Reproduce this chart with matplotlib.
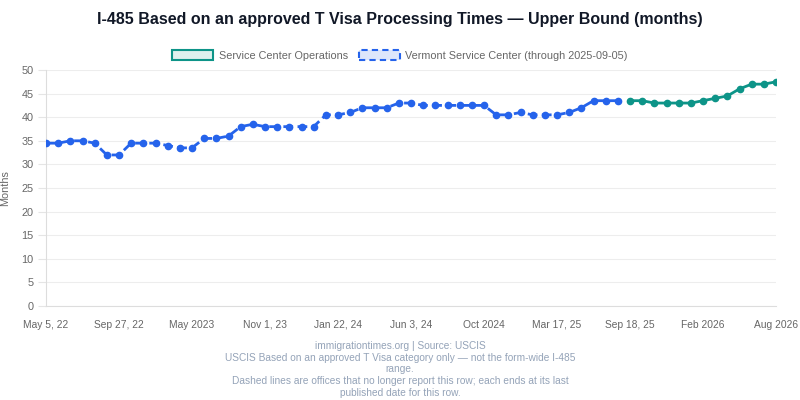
import matplotlib.pyplot as plt
from matplotlib.patches import Patch

plt.rcParams['font.family'] = ['Liberation Sans', 'DejaVu Sans']

# valores (meses, limite superior)
vermont = [34.5, 34.5, 35, 35, 34.5, 32, 32, 34.5, 34.5, 34.5, 34, 33.5, 33.5,
           35.5, 35.5, 36, 38, 38.5, 38, 38, 38, 38, 38, 40.5, 40.5, 41, 42, 42,
           42, 43, 43, 42.5, 42.5, 42.5, 42.5, 42.5, 42.5, 40.5, 40.5, 41, 40.5,
           40.5, 40.5, 41, 42, 43.5, 43.5, 43.5]
operaciones = [43.5, 43.5, 43, 43, 43, 43, 43.5, 44, 44.5, 46, 47, 47, 47.5]
etiquetas = ['May 5, 22', 'Sep 27, 22', 'May 2023', 'Nov 1, 23', 'Jan 22, 24',
             'Jun 3, 24', 'Oct 2024', 'Mar 17, 25', 'Sep 18, 25', 'Feb 2026',
             'Aug 2026']
cada = 6

azul = '#2563eb'
verde = '#0d9488'
gris = '#666666'

fig = plt.figure(figsize=(8, 4), dpi=100)
ax = fig.add_axes([0.0575, 0.235, 0.9125, 0.59])

x_v = list(range(len(vermont)))
x_o = list(range(len(vermont), len(vermont) + len(operaciones)))

ax.plot(x_v, vermont, color=azul, lw=2, ls=(0, (3.5, 1.6)), marker='o', ms=4.5,
        markerfacecolor=azul, markeredgecolor=azul, zorder=3)
ax.plot(x_o, operaciones, color=verde, lw=2, marker='o', ms=4.5, zorder=3)

ax.set_xlim(0, len(vermont) + len(operaciones) - 1)
ax.set_ylim(0, 50)
ax.set_yticks(range(0, 51, 5))
ax.set_xticks(range(0, len(etiquetas) * cada, cada))
ax.set_xticklabels(etiquetas)
ax.tick_params(axis='both', colors='#e5e5e5', labelcolor=gris, labelsize=7.8)
ax.tick_params(axis='y', length=6, pad=3)
ax.tick_params(axis='x', length=0, pad=10, labelsize=7.4)
ax.grid(axis='y', color='#ededed', lw=0.8)
ax.set_axisbelow(True)
for lado in ['top', 'right']:
    ax.spines[lado].set_visible(False)
ax.spines['left'].set_color('#dddddd')
ax.spines['bottom'].set_color('#dddddd')
ax.set_ylabel('Months', color=gris, fontsize=7.8)
ax.yaxis.set_label_coords(-0.049, 0.5)

fig.text(0.5, 0.952, 'I-485 Based on an approved T Visa Processing Times — Upper Bound (months)',
         ha='center', va='center', fontsize=11.5, fontweight='bold', color='#111827')

manejadores = [
    Patch(facecolor='#dff1ee', edgecolor=verde, lw=1.5, label='Service Center Operations'),
    Patch(facecolor='#dde6fb', edgecolor=azul, lw=1.5, ls=(0, (3, 2)),
          label='Vermont Service Center (through 2025-09-05)'),
]
fig.legend(handles=manejadores, loc='center', bbox_to_anchor=(0.5, 0.862), ncol=2,
           frameon=False, fontsize=7.8, labelcolor=gris, handlelength=3.8,
           handleheight=1.1, columnspacing=1.0, handletextpad=0.5)

pie = ('immigrationtimes.org | Source: USCIS\n'
       'USCIS Based on an approved T Visa category only — not the form-wide I-485\n'
       'range.\n'
       'Dashed lines are offices that no longer report this row; each ends at its last\n'
       'published date for this row.')
fig.text(0.5, 0.148, pie, ha='center', va='top', fontsize=7.3, color='#94a3b8',
         linespacing=1.22)

fig.savefig('out.png', dpi=100)
